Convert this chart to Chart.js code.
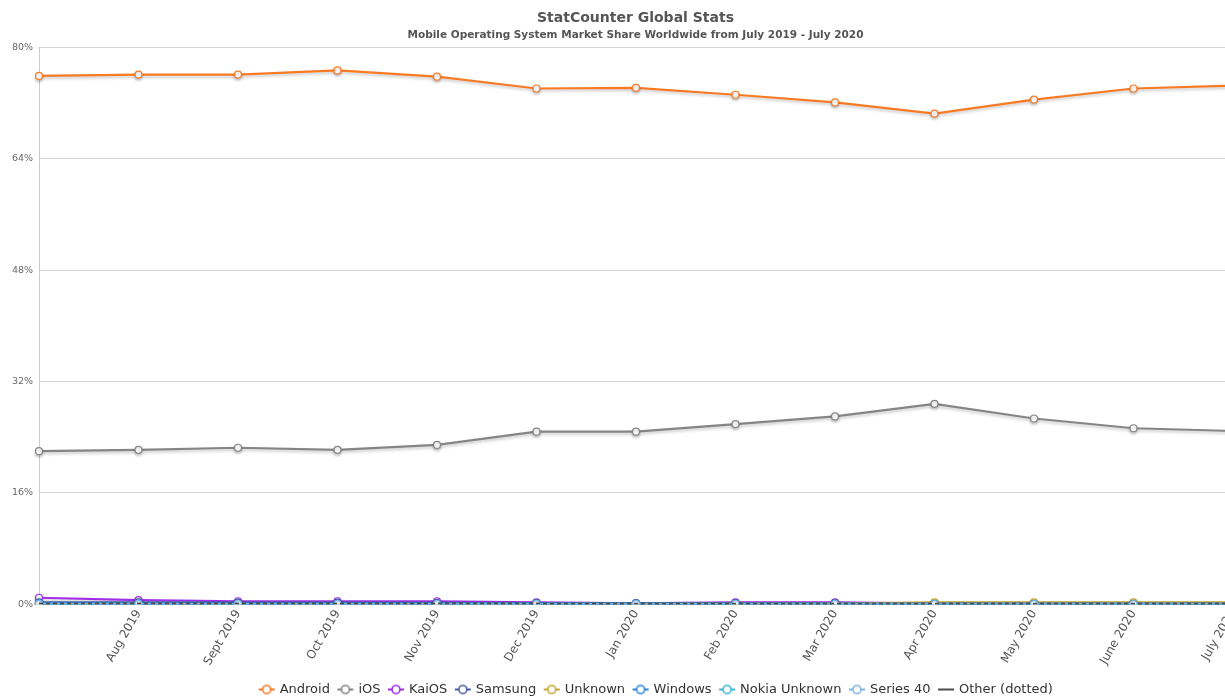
<!DOCTYPE html>
<html>
<head>
<meta charset="utf-8">
<script src="https://cdn.jsdelivr.net/npm/chart.js@4/dist/chart.umd.min.js"></script>
<style>
  html, body { margin: 0; padding: 0; background: #fff; overflow: hidden; }
  #wrap { width: 1272px; height: 696px; }
</style>
</head>
<body>
<div id="wrap"><canvas id="chart" width="1272" height="696"></canvas></div>
<script>
var months = ['July 2019', 'Aug 2019', 'Sept 2019', 'Oct 2019', 'Nov 2019', 'Dec 2019',
  'Jan 2020', 'Feb 2020', 'Mar 2020', 'Apr 2020', 'May 2020', 'June 2020', 'July 2020'];

var android = [75.9, 76.1, 76.1, 76.7, 75.8, 74.1, 74.2, 73.2, 72.1, 70.5, 72.5, 74.1, 74.5];
var ios = [22.0, 22.2, 22.5, 22.2, 22.9, 24.8, 24.8, 25.9, 27.0, 28.8, 26.7, 25.3, 24.9];
var kaios = [0.95, 0.6, 0.45, 0.45, 0.45, 0.3, 0.15, 0.3, 0.3, 0.1, 0.1, 0.1, 0.1];
var samsung = [0.3, 0.28, 0.25, 0.24, 0.22, 0.2, 0.18, 0.18, 0.17, 0.15, 0.15, 0.15, 0.14];
var unknown = [0.05, 0.05, 0.05, 0.05, 0.05, 0.06, 0.06, 0.08, 0.1, 0.3, 0.3, 0.3, 0.3];
var windows = [0.14, 0.13, 0.12, 0.12, 0.11, 0.11, 0.1, 0.1, 0.1, 0.09, 0.09, 0.08, 0.08];
var nokiaUnknown = [0.06, 0.06, 0.05, 0.05, 0.05, 0.05, 0.04, 0.04, 0.04, 0.03, 0.03, 0.03, 0.03];
var series40 = [0.04, 0.04, 0.04, 0.03, 0.03, 0.03, 0.03, 0.03, 0.02, 0.02, 0.02, 0.02, 0.02];
var other = [0.14, 0.13, 0.12, 0.12, 0.11, 0.11, 0.1, 0.1, 0.1, 0.09, 0.09, 0.08, 0.08];

var yTicks = [0, 16, 32, 48, 64, 80];

Chart.defaults.font.family = "'DejaVu Sans', sans-serif";

// legend icon: short line with a hollow circle on it (or plain line for "Other")
function legendIcon(color, lineOnly) {
  var c = document.createElement('canvas');
  c.width = 18; c.height = 12;
  var g = c.getContext('2d');
  g.strokeStyle = color;
  g.lineWidth = 2;
  g.beginPath(); g.moveTo(1, 6); g.lineTo(17, 6); g.stroke();
  if (!lineOnly) {
    g.fillStyle = '#fff';
    g.lineWidth = 1.6;
    g.beginPath(); g.arc(9, 6, 4, 0, Math.PI * 2); g.fill(); g.stroke();
  }
  return c;
}

function series(label, data, color, extra) {
  var ds = {
    label: label,
    data: data,
    borderColor: color,
    backgroundColor: '#fff',
    pointBackgroundColor: '#fff',
    pointBorderColor: color,
    pointBorderWidth: 1.2,
    pointRadius: 3.5,
    borderWidth: 2.2,
    tension: 0,
    pointStyle: 'circle'
  };
  for (var k in extra) ds[k] = extra[k];
  return ds;
}

// soft shadow under the lines like the original
var shadowPlugin = {
  id: 'lineShadow',
  beforeDatasetsDraw: function(chart) {
    var c = chart.ctx;
    c.save();
    c.shadowColor = 'rgba(0,0,0,0.22)';
    c.shadowBlur = 3;
    c.shadowOffsetY = 2;
  },
  afterDatasetsDraw: function(chart) {
    chart.ctx.restore();
  }
};

// the original centres titles on the full canvas and the legend a bit further right
var boxShift = {
  id: 'boxShift',
  afterLayout: function(chart) {
    chart.boxes.forEach(function(b) {
      if (b === chart.legend) {
        b.left += 40; b.right += 40;
      } else if (b.options && b.options.text) {
        b.left += 19; b.right += 19;
      }
    });
  }
};

var ctx = document.getElementById('chart');
var myChart = new Chart(ctx, {
  type: 'line',
  data: {
    labels: months,
    datasets: [
      series('Other (dotted)', other, '#4d4d4d', { borderDash: [4, 3], pointRadius: 0, borderWidth: 2, iconLine: true }),
      series('Series 40', series40, '#7eb3e6', {}),
      series('Nokia Unknown', nokiaUnknown, '#3ab7d9', {}),
      series('Windows', windows, '#2a86e0', { borderWidth: 2.6 }),
      series('Unknown', unknown, '#c8a531', {}),
      series('Samsung', samsung, '#4a5da6', {}),
      series('KaiOS', kaios, '#a12ee8', {}),
      series('iOS', ios, '#858585', {}),
      series('Android', android, '#f97a24', {})
    ]
  },
  options: {
    responsive: false,
    animation: false,
    layout: { padding: { left: 0, right: 39, top: 0, bottom: -10 } },
    plugins: {
      title: {
        display: true,
        text: 'StatCounter Global Stats',
        color: '#555',
        font: { size: 14, weight: 'bold' },
        padding: { top: 10, bottom: 1 }
      },
      subtitle: {
        display: true,
        text: 'Mobile Operating System Market Share Worldwide from July 2019 - July 2020',
        color: '#555',
        font: { size: 10.5, weight: 'bold' },
        padding: { top: 1, bottom: 6 }
      },
      legend: {
        position: 'bottom',
        reverse: true,
        labels: {
          usePointStyle: true,
          boxWidth: 13,
          boxHeight: 8,
          padding: 9,
          color: '#333',
          font: { size: 13 },
          generateLabels: function(chart) {
            return chart.data.datasets.map(function(ds, i) {
              return {
                text: ds.label,
                datasetIndex: i,
                pointStyle: legendIcon(ds.borderColor, ds.iconLine),
                fillStyle: '#fff',
                strokeStyle: ds.borderColor,
                fontColor: '#333',
                lineWidth: 0,
                hidden: false
              };
            });
          }
        }
      },
      tooltip: { enabled: false }
    },
    scales: {
      x: {
        grid: { display: false, drawTicks: false },
        border: { color: '#ccc' },
        afterFit: function(axis) { axis.height += 3; },
        ticks: {
          color: '#555',
          font: { size: 12 },
          maxRotation: 60,
          minRotation: 60,
          padding: 3,
          autoSkip: false,
          callback: function(v, i) { return i === 0 ? '' : months[i]; }
        }
      },
      y: {
        min: yTicks[0],
        max: yTicks[yTicks.length - 1],
        afterBuildTicks: function(axis) {
          axis.ticks = yTicks.map(function(v) { return { value: v }; });
        },
        afterFit: function(axis) { axis.width = 39; },
        grid: { color: '#d4d4d4', drawTicks: false },
        border: { color: '#ccc', display: true },
        ticks: {
          color: '#666',
          font: { size: 9.5 },
          padding: 6,
          callback: function(v) { return v + '%'; }
        }
      }
    }
  },
  plugins: [shadowPlugin, boxShift]
});
</script>
</body>
</html>
